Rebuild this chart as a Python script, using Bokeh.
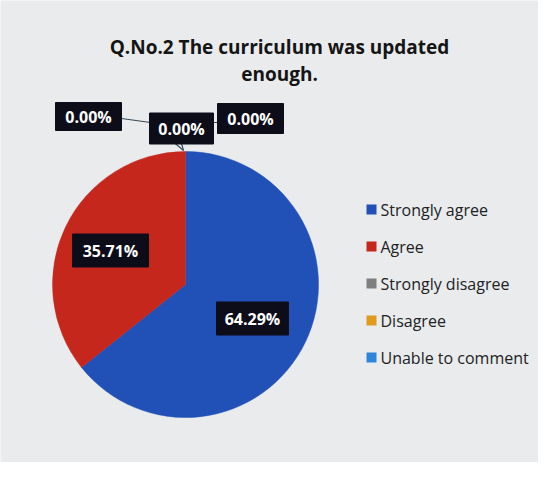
import math
from bokeh.plotting import figure
from bokeh.models import Range1d, ColumnDataSource
from bokeh.core.properties import value
from bokeh.embed import file_html
from bokeh.resources import INLINE

title_lines = ["Q.No.2 The curriculum was updated", "enough."]
categories = ["Strongly agree", "Agree", "Strongly disagree", "Disagree", "Unable to comment"]
percent_values = [64.29, 35.71, 0.00, 0.00, 0.00]
colors = ["#2150b6", "#c6271c", "#7f7f7f", "#e09a1e", "#2f86d8"]

W, H = 538, 462
FONT = "Open Sans"

def Y(img_y):
    return H - img_y

def X(img_x):
    return img_x

p = figure(width=W, height=H, output_backend="svg", toolbar_location=None,
           x_range=Range1d(0, W), y_range=Range1d(0, H), min_border=0)
p.axis.visible = False
p.grid.visible = False
p.outline_line_color = None
p.background_fill_color = "#e9ebed"
p.border_fill_color = "#e9ebed"

# title
for i, t in enumerate(title_lines):
    p.text(x=[X(279)], y=[Y(46 + 27 * i)], text=[t], text_font=value(FONT),
           text_font_style="bold", text_font_size="19px", text_color="#151515",
           text_align="center", text_baseline="middle")

# pie
cx, cy, r = X(185), Y(284), 133
total = sum(percent_values)
starts, ends, wcols = [], [], []
a = math.pi / 2
for v, c in zip(percent_values, colors):
    s = a
    a -= v / total * 2 * math.pi
    if v > 0:
        starts.append(s)
        ends.append(a)
        wcols.append(c)
src = ColumnDataSource(dict(start=starts, end=ends, color=wcols))
p.wedge(x=cx, y=cy, radius=r, start_angle="start", end_angle="end",
        direction="clock", fill_color="color", line_color="color", line_width=0.5, source=src)

# leader lines for zero labels
p.line(x=[X(121), X(150), X(183)], y=[Y(118), Y(122), Y(150)], line_color="#3a4a5a", line_width=1.2)
p.line(x=[X(212), X(220)], y=[Y(122), Y(122)], line_color="#3a4a5a", line_width=1.2)
p.line(x=[X(181), X(183)], y=[Y(143), Y(150)], line_color="#3a4a5a", line_width=1.2)

# data labels (box centre in image coords, width, height)
label_boxes = [((252, 318), 72, 33), ((110, 250), 76, 33),
               ((181, 128), 64, 31), ((88, 116), 66, 28), ((250, 118), 66, 30)]
lx = [X(b[0][0]) for b in label_boxes]
ly = [Y(b[0][1]) for b in label_boxes]
lw = [b[1] for b in label_boxes]
lh = [b[2] for b in label_boxes]
ltxt = ["%.2f%%" % v for v in percent_values]
p.rect(x=lx, y=ly, width=lw, height=lh, fill_color="#0d0d1a", line_color="#0d0d1a")
p.text(x=lx, y=ly, text=ltxt, text_font=value(FONT), text_font_style="bold",
       text_font_size="16px", text_color="#ffffff", text_align="center", text_baseline="middle")

# legend
leg_y = [209, 246, 283, 320, 357]
p.scatter(x=[X(371)] * 5, y=[Y(v) for v in leg_y], marker="square", size=10,
          fill_color=colors, line_color=None)
p.text(x=[X(380)] * 5, y=[Y(v) for v in leg_y], text=categories, text_font=value(FONT),
       text_font_size="16px", text_color="#222222", text_baseline="middle")

open("out.html", "w").write(file_html(p, INLINE))
